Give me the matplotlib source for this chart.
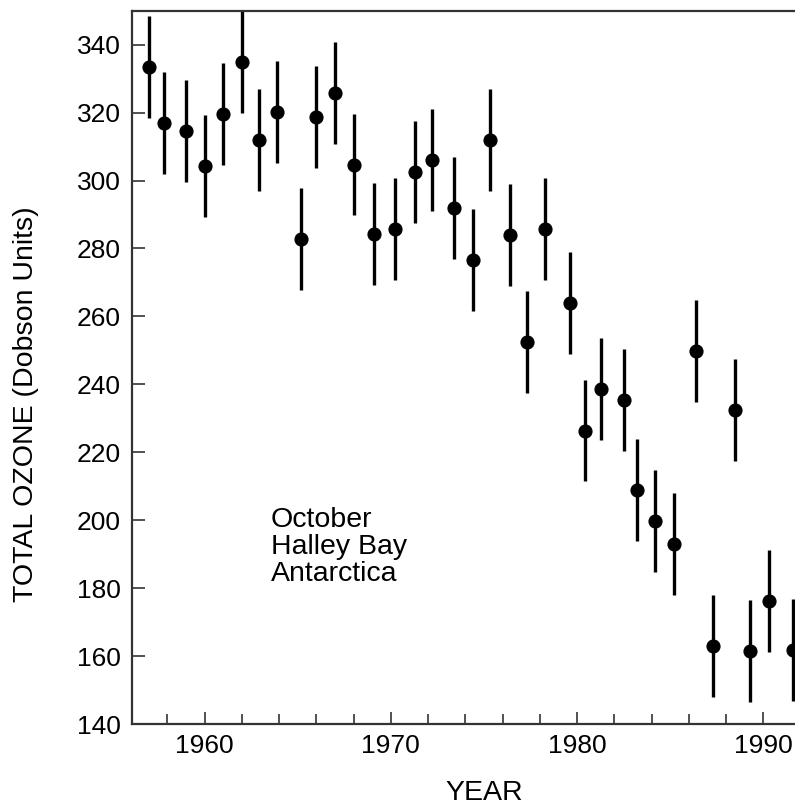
import numpy as np
import matplotlib
matplotlib.use("Agg")
import matplotlib.pyplot as plt
from matplotlib.ticker import MultipleLocator

# October total ozone, Halley Bay
years = [1957.0, 1957.8, 1959.0, 1960.0, 1961.0, 1962.0, 1962.9, 1963.9,
         1965.2, 1966.0, 1967.0, 1968.0, 1969.1, 1970.2, 1971.3, 1972.2,
         1973.4, 1974.4, 1975.3, 1976.4, 1977.3, 1978.3, 1979.6, 1980.4,
         1981.3, 1982.5, 1983.2, 1984.2, 1985.2, 1986.4, 1987.3, 1988.5,
         1989.3, 1990.3, 1991.6]
ozone = [333.4, 316.9, 314.6, 304.3, 319.6, 334.9, 311.8, 320.2,
         282.7, 318.6, 325.7, 304.7, 284.2, 285.6, 302.4, 306.1,
         291.8, 276.6, 311.9, 284.0, 252.5, 285.6, 264.0, 226.4,
         238.7, 235.5, 208.9, 199.7, 192.9, 249.7, 163.0, 232.5,
         161.5, 176.1, 161.7]
err = [15] * len(years)

yticks = [140, 160, 180, 200, 220, 240, 260, 280, 300, 320, 340]
xticks = [1960, 1970, 1980, 1990]

plt.rcParams['font.family'] = ['Liberation Sans', 'DejaVu Sans']

fig = plt.figure(figsize=(7.95, 8.07), dpi=100)
ax = fig.add_axes([0.166, 0.1028, 0.834, 0.884])

ax.errorbar(years, ozone, yerr=err, fmt='o', color='black', ms=9.2,
            elinewidth=2.4, capsize=0)

ax.set_xlim(1956.1, 1991.7)
ax.set_ylim(140, 350)
ax.set_yticks(yticks)
ax.set_xticks(xticks)
ax.xaxis.set_minor_locator(MultipleLocator(2))

ax.spines['right'].set_visible(False)
for s in ['left', 'bottom', 'top']:
    ax.spines[s].set_color('#333333')
    ax.spines[s].set_linewidth(1.6)

ax.tick_params(axis='y', direction='in', length=9, width=1.2, color='#333333',
               labelsize=19, pad=8)
ax.tick_params(axis='x', which='major', direction='in', length=9, width=1.2,
               color='#333333', labelsize=19, pad=7)
ax.tick_params(axis='x', which='minor', direction='in', length=7, width=1.2,
               color='#333333')
ax.tick_params(top=False, right=False, which='both')

ax.set_ylabel('TOTAL OZONE (Dobson Units)', fontsize=20.5)
ax.yaxis.set_label_coords(-0.14, 0.449)
ax.set_xlabel('YEAR', fontsize=20.5)
ax.xaxis.set_label_coords(0.532, -0.078)

ax.text(1963.55, 204, 'October\nHalley Bay\nAntarctica', fontsize=20.5,
        va='top', ha='left', linespacing=1.06)

fig.savefig('out.png', dpi=100)
